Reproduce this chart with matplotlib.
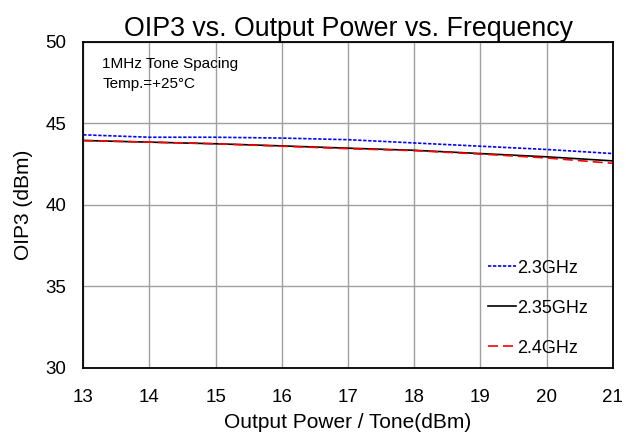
import matplotlib
matplotlib.use("Agg")
import matplotlib.pyplot as plt

plt.rcParams['font.family'] = ['Liberation Sans', 'DejaVu Sans']

pout = [13, 14, 15, 16, 17, 18, 19, 20, 21]
oip3_23 = [44.3, 44.15, 44.15, 44.1, 44.0, 43.8, 43.6, 43.4, 43.15]
oip3_235 = [43.95, 43.85, 43.75, 43.62, 43.48, 43.35, 43.15, 42.95, 42.7]
oip3_24 = [43.95, 43.85, 43.75, 43.6, 43.45, 43.33, 43.12, 42.88, 42.55]

fig = plt.figure(figsize=(6.26, 4.36), dpi=100)
ax = fig.add_axes([0.133, 0.156, 0.846, 0.748])

ax.plot(pout, oip3_23, color='blue', ls=(0, (2, 1)), lw=1.2, label='2.3GHz')
ax.plot(pout, oip3_235, color='black', ls='-', lw=1.2, label='2.35GHz')
ax.plot(pout, oip3_24, color='red', ls=(0, (6, 3)), lw=1.2, label='2.4GHz')

ax.set_xlim(13, 21)
ax.set_ylim(30, 50)
ax.set_xticks(range(13, 22))
ax.set_yticks(range(30, 51, 5))
ax.grid(True, color='#a0a0a0', lw=1)
ax.tick_params(labelsize=13.5, length=0)
ax.tick_params(axis='x', pad=15)
ax.tick_params(axis='y', pad=12)
for s in ax.spines.values():
    s.set_linewidth(1.3)

ax.set_title('OIP3 vs. Output Power vs. Frequency', fontsize=19.3, pad=4)
ax.set_xlabel('Output Power / Tone(dBm)', fontsize=15, labelpad=5)
ax.set_ylabel('OIP3 (dBm)', fontsize=15, labelpad=9)

ax.text(0.036, 0.955, '1MHz Tone Spacing\nTemp.=+25\u00b0C', transform=ax.transAxes,
        fontsize=11, va='top', linespacing=1.6)

leg = ax.legend(loc='lower right', frameon=False, fontsize=13, handlelength=1.55,
                handletextpad=0.05, labelspacing=1.27, borderaxespad=0,
                bbox_to_anchor=(0.967, 0.013))

fig.savefig('out.png', dpi=100)
